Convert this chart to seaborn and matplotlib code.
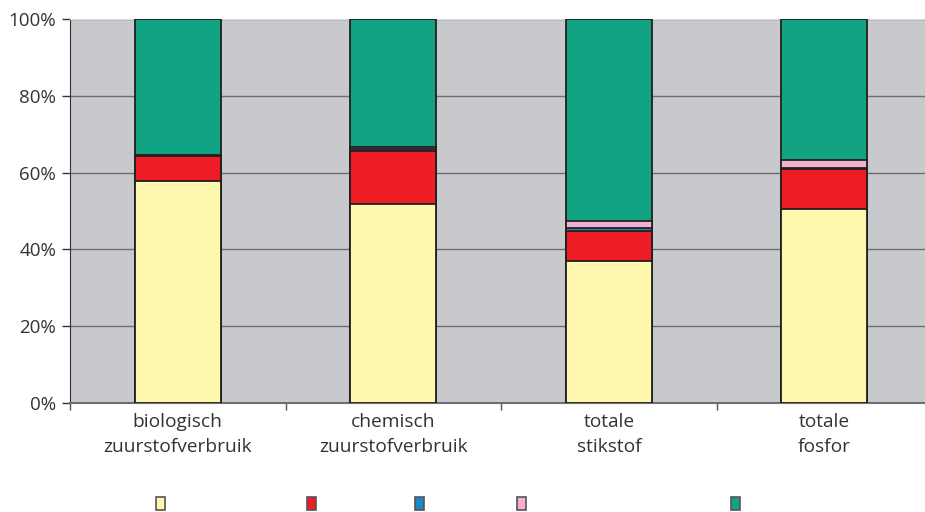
import matplotlib
matplotlib.use("Agg")
import matplotlib.pyplot as plt
from matplotlib.patches import Patch
from matplotlib.ticker import FixedLocator, PercentFormatter
import pandas as pd
import seaborn as sns

categories = ["biologisch\nzuurstofverbruik", "chemisch\nzuurstofverbruik", "totale\nstikstof", "totale\nfosfor"]
yellow_vals = [57.8, 51.8, 37.0, 50.5]
red_vals = [6.5, 13.8, 7.8, 10.4]
blue_vals = [0.1, 0.5, 0.8, 0.3]
pink_vals = [0.1, 0.5, 1.8, 2.1]
green_vals = [35.5, 33.4, 52.6, 36.7]

series = [yellow_vals, red_vals, blue_vals, pink_vals, green_vals]
colors = ["#FFF7AE", "#EE1C25", "#1A88C9", "#F5B0D0", "#12A383"]
legend_x = [0.173, 0.337, 0.454, 0.564, 0.795]

sns.set_style("white")
plt.rcParams["font.family"] = ["Open Sans", "DejaVu Sans"]

# cumulative totals, drawn from the top layer down so they stack
cum = pd.DataFrame(series, columns=categories).cumsum()

fig = plt.figure(figsize=(9.25, 5.12), dpi=100)
ax = fig.add_axes([0.0757, 0.213, 0.932, 0.750])
ax.set_facecolor("#C8C9CD")

for i in reversed(range(len(series))):
    sns.barplot(x=categories, y=cum.iloc[i].values, color=colors[i], saturation=1,
                width=0.4, edgecolor="#231F20", linewidth=1.3, ax=ax, zorder=3)

ax.set_xlim(-0.5, 3.5)
ax.set_ylim(0, 100)
ax.yaxis.set_major_locator(FixedLocator([0, 20, 40, 60, 80, 100]))
ax.yaxis.set_major_formatter(PercentFormatter(decimals=0))
ax.grid(axis="y", color="#6D6E71", linewidth=1, zorder=0)
ax.set_axisbelow(True)

ax.xaxis.set_minor_locator(FixedLocator([-0.5, 0.5, 1.5, 2.5]))
ax.tick_params(axis="x", which="major", length=0, pad=7, labelsize=13.8, colors="#333333")
ax.tick_params(axis="x", which="minor", length=5, width=1, color="#555555", bottom=True)
ax.tick_params(axis="y", length=6, width=1, left=True, color="#333333", labelsize=13.5,
               labelcolor="#333333", pad=4)
for lbl in ax.get_xticklabels():
    lbl.set_linespacing(1.5)

ax.spines["top"].set_color("#DDDDDD")
ax.spines["right"].set_visible(False)
ax.spines["left"].set_color("#333333")
ax.spines["bottom"].set_color("#6D6E71")
ax.spines["bottom"].set_linewidth(1.5)
ax.set_xlabel("")
ax.set_ylabel("")

for x, c in zip(legend_x, colors):
    fig.legend(handles=[Patch(facecolor=c, edgecolor="#555555", linewidth=1.2)], labels=[""],
               loc="center", bbox_to_anchor=(x, 0.014), frameon=False,
               handlelength=0.65, handleheight=1.0, handletextpad=0, borderpad=0)

fig.savefig("out.png", dpi=100)
